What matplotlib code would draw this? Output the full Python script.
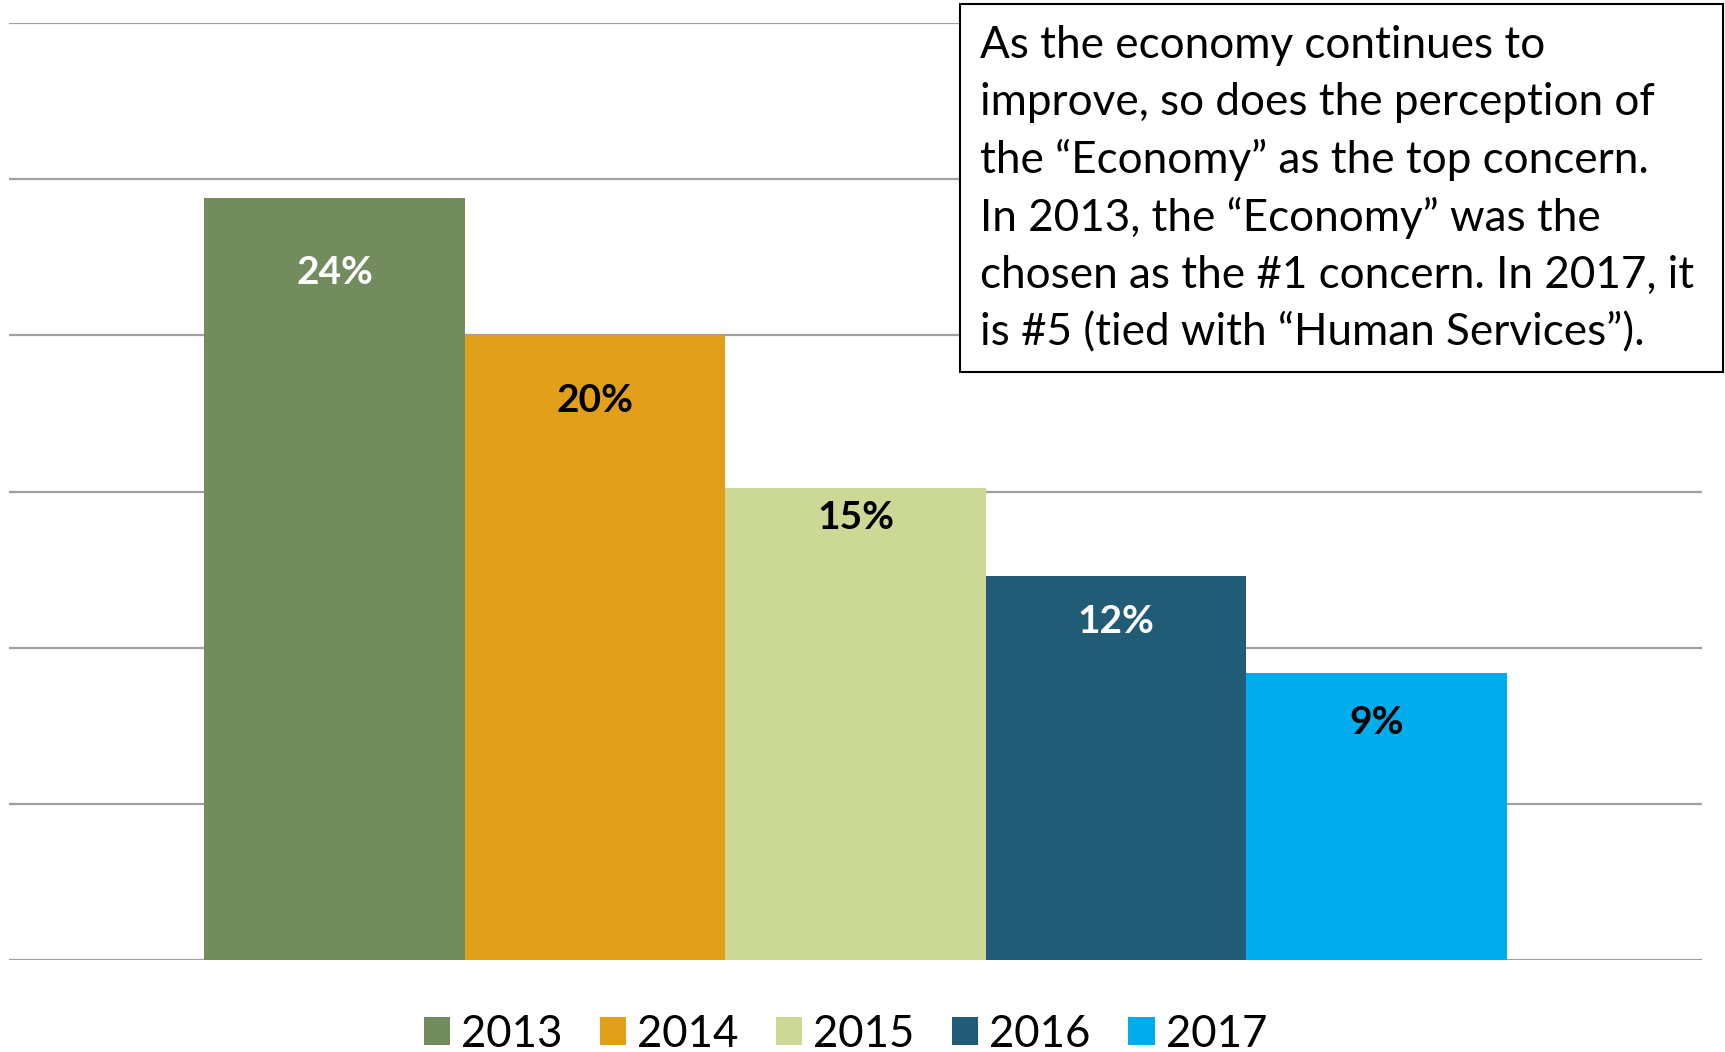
import matplotlib.pyplot as plt
from matplotlib.patches import Rectangle, Patch

# data
years = ['2013', '2014', '2015', '2016', '2017']
values = [24.4, 20.0, 15.1, 12.3, 9.2]
labels = ['24%', '20%', '15%', '12%', '9%']
colors = ['#728C5E', '#E29F19', '#CBD896', '#215C77', '#00ADEC']
label_colors = ['white', 'black', 'black', 'white', 'black']
# how far below the bar top each label sits (points)
label_drop = [54, 47, 21, 33, 36]

note = ('As the economy continues to\n'
        'improve, so does the perception of\n'
        'the \u201cEconomy\u201d as the top concern.\n'
        'In 2013, the \u201cEconomy\u201d was the\n'
        'chosen as the #1 concern. In 2017, it\n'
        'is #5 (tied with \u201cHuman Services\u201d).')

plt.rcParams['font.family'] = ['Lato', 'DejaVu Sans']

W, H = 1725, 1052
fig = plt.figure(figsize=(W / 100, H / 100), dpi=100)
ax = fig.add_axes([9 / W, 1 - 960 / H, (1702 - 9) / W, (960 - 23) / H])

x = list(range(len(years)))
bars = ax.bar(x, values, width=1.0, color=colors, zorder=2)
ax.set_xlim(-1.25, 5.25)
ax.set_ylim(0, 30)
ax.set_yticks([0, 5, 10, 15, 20, 25, 30])
ax.yaxis.grid(True, color='#A0A0A0', linewidth=1.6, zorder=0)
ax.set_axisbelow(True)
ax.tick_params(left=False, bottom=False, labelleft=False, labelbottom=False)
for s in ax.spines.values():
    s.set_visible(False)

for b, lab, c, d in zip(bars, labels, label_colors, label_drop):
    ax.annotate(lab, (b.get_x() + b.get_width() / 2, b.get_height()),
                xytext=(0, -d), textcoords='offset points',
                ha='center', va='center', fontsize=28, fontweight='bold', color=c)

handles = [Patch(facecolor=c, edgecolor='none') for c in colors]
fig.legend(handles, years, loc='center', bbox_to_anchor=(0.49, 0.017), ncol=5,
           frameon=False, fontsize=31.5, handlelength=0.6, handleheight=0.6,
           handletextpad=0.25, columnspacing=0.86)

# note box in the top right
fig.patches.append(Rectangle((960 / W, 1 - 372 / H), (1723 - 960) / W, 368 / H,
                             transform=fig.transFigure, facecolor='white',
                             edgecolor='black', linewidth=1.5, zorder=5))
fig.text(980 / W, 1 - 25 / H, note, ha='left', va='top', fontsize=31.7,
         linespacing=1.475, zorder=6)

fig.savefig('out.png', dpi=100)
